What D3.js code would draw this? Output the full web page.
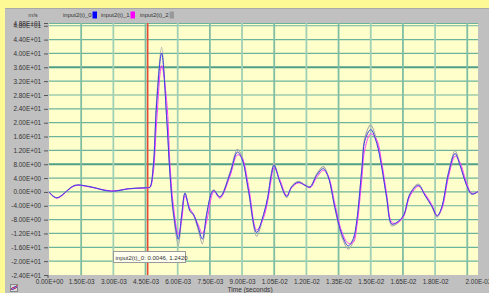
<!DOCTYPE html>
<html><head><meta charset="utf-8">
<script src="https://cdn.jsdelivr.net/npm/d3@7"></script>
<style>
html,body{margin:0;padding:0;background:#fdfa96;}
svg{display:block;font-family:"Liberation Sans",Arial,sans-serif;}
</style></head>
<body><svg id="c" width="489" height="293"></svg>
<script>
// time in milliseconds
const timeMs = [0,0.36,1.21,1.83,2.92,3.70,4.48,4.60,4.71,4.86,5.02,5.25,5.49,5.64,5.79,6.03,6.19,6.34,6.57,6.73,6.96,7.15,7.35,7.59,7.69,7.97,8.44,8.78,9.00,9.30,9.68,10.00,10.20,10.35,10.49,10.77,11.08,11.31,11.62,11.93,12.17,12.48,12.79,13.02,13.33,13.65,13.95,14.19,14.35,14.58,14.73,15.00,15.28,15.51,15.74,15.98,16.21,16.52,16.83,17.22,17.53,17.84,18.10,18.31,18.62,18.93,19.16,19.47,19.71,20.0];
const series0 = [0,-1.7,1.9,1.6,0.2,0.9,1.2,1.24,1.4,7.2,
 25.7,40.1,20.8,5.3,-5.4,-13.6,-6.3,-0.4,-5.4,-6.4,
 -10.3,-13.6,-6.3,-0.1,0.4,-1.5,5.3,11.5,9.5,0.4,
 -11.7,-6.5,-1.5,4.5,7.7,2.8,-1.3,1.4,2.8,1.9,
 1.4,4.8,6.7,4.3,-4.5,-12.2,-15.6,-13.4,-8.3,6.2,
 14.9,18.0,14.0,7.2,-1.5,-9.3,-8.8,-6.9,-0.6,1.9,
 -1.0,-4.0,-6.9,-4.4,5.3,11.1,7.7,1.9,-0.6,0.1];
const series1 = [0,-1.8,1.8,1.5,0.3,0.9,1.1,1.2,1.3,5.5,
 20.5,36.5,26.0,8.0,-3.5,-12.3,-8.0,-1.2,-4.8,-6.5,
 -9.5,-12.0,-8.5,-1.0,0.2,-1.8,4.6,10.7,9.8,1.8,
 -11.0,-7.5,-2.5,3.2,7.0,3.4,-1.0,1.2,2.6,2.0,
 1.2,4.2,6.2,4.6,-3.5,-11.5,-14.8,-14.5,-10.0,3.5,
 12.5,16.8,15.0,8.5,-0.5,-8.8,-9.0,-7.2,-1.2,1.6,
 -0.6,-3.6,-6.8,-5.0,4.2,10.3,8.5,2.6,-0.4,0.1];
const series2 = [0,-1.7,1.9,1.6,0.1,0.9,1.2,1.24,1.4,7.6,
 27.0,41.8,21.5,4.8,-6.2,-15.5,-6.8,-0.2,-5.6,-6.7,
 -11.0,-15.0,-6.8,0.1,0.6,-1.4,5.7,12.3,10.2,0.2,
 -12.8,-6.9,-1.6,4.9,8.2,2.9,-1.6,1.6,3.1,2.1,
 1.5,5.2,7.3,4.5,-4.9,-13.0,-16.5,-14.2,-8.5,6.6,
 15.8,19.3,14.8,7.4,-1.8,-9.8,-9.2,-7.2,-0.5,2.3,
 -1.0,-4.2,-7.3,-4.6,5.6,11.9,8.1,2.0,-0.7,0.1];
const seriesNames = ["input2(t)_0","input2(t)_1","input2(t)_2"];
const yTicks = [-24,-20,-16,-12,-8,-4,0,4,8,12,16,20,24,28,32,36,40,44,48,48.8];
const yMajor = [36,8];
const xGrid = [0.0015,0.003,0.0045,0.006,0.0075,0.009,0.0105,0.012,0.0135,0.015,0.0165,0.018,0.0195];
const xTickLabels = [0,0.0015,0.003,0.0045,0.006,0.0075,0.009,0.0105,0.012,0.0135,0.015,0.0165,0.018,0.02];
const cursor = {name:"input2(t)_0", t:0.0046, v:1.2420};

const svg = d3.select("#c");
const W=489,H=293;
const L=49,R=478,T=23,B=275;
const x = d3.scaleLinear().domain([0,0.02]).range([L,R]);
const y = d3.scaleLinear().domain([-24,48.8]).range([B,T]);
const fmt = v => { let s=(+v).toExponential(2).toUpperCase(); return s.replace(/E([+-])(\d)$/,"E$10$2"); };

svg.append("rect").attr("width",W).attr("height",H).attr("fill","#fdfa96");
svg.append("rect").attr("x",5).attr("y",8).attr("width",W).attr("height",H).attr("fill","#c0c0c0");
svg.append("line").attr("x1",5).attr("x2",W).attr("y1",8.5).attr("y2",8.5).attr("stroke","#a8a8a8");
svg.append("rect").attr("x",L).attr("y",T).attr("width",R-L).attr("height",B-T).attr("fill","#ffffcc");

// grid
const g = svg.append("g");
g.selectAll(".hg").data(yTicks.filter(v=>v>-24 && v<48.8)).enter().append("line")
 .attr("x1",L).attr("x2",R).attr("y1",d=>y(d)).attr("y2",d=>y(d))
 .attr("stroke",d=>yMajor.includes(d)?"#4f9f88":"#6cb39c")
 .attr("stroke-width",d=>yMajor.includes(d)?2:1.2);
g.append("line").attr("x1",L).attr("x2",R).attr("y1",T+0.5).attr("y2",T+0.5).attr("stroke","#6cb39c").attr("stroke-width",1.2);
g.selectAll(".vg").data(xGrid).enter().append("line")
 .attr("x1",d=>x(d)).attr("x2",d=>x(d)).attr("y1",T).attr("y2",B)
 .attr("stroke",(d,i)=>i%2?"#9fd0b6":"#7fbea4").attr("stroke-width",1.8);

// cursor
svg.append("line").attr("x1",x(cursor.t)).attr("x2",x(cursor.t)).attr("y1",T).attr("y2",B)
 .attr("stroke","#ee4a33").attr("stroke-width",1.6);

// series
const colors = ["#3a3ae8","#ff3cff","#a9a9a9"];
const data = [series0,series1,series2];
const line = d3.line().curve(d3.curveCatmullRom.alpha(0.5))
 .x((d,i)=>x(timeMs[i]/1000)).y(d=>y(d));
[2,1,0].forEach(k=>{
 svg.append("path").datum(data[k]).attr("d",line).attr("fill","none")
  .attr("stroke",colors[k]).attr("stroke-width",k==2?1.1:1);
});

// y axis
const ya = d3.axisLeft(y).tickValues(yTicks).tickSize(4).tickPadding(3).tickFormat(fmt);
const yg = svg.append("g").attr("transform",`translate(${L-1},0)`).call(ya);
yg.select(".domain").remove();
yg.selectAll("line").attr("stroke","#555");
yg.selectAll("text").attr("font-size","6.4px").attr("fill","#333").attr("font-family","Liberation Sans, Arial, sans-serif");
svg.append("line").attr("x1",L-1).attr("x2",L-1).attr("y1",B).attr("y2",B+3).attr("stroke","#555");

// x axis
const xa = d3.axisBottom(x).tickValues(xTickLabels).tickSize(0).tickPadding(4).tickFormat(fmt);
const xg = svg.append("g").attr("transform",`translate(0,${B})`).call(xa);
xg.select(".domain").remove();
xg.selectAll("text").attr("font-size","6.4px").attr("fill","#333").attr("font-family","Liberation Sans, Arial, sans-serif");

svg.append("text").attr("x",250).attr("y",292).attr("text-anchor","middle").attr("font-size","6.6px").attr("fill","#333").text("Time (seconds)");
svg.append("text").attr("x",33).attr("y",17).attr("text-anchor","middle").attr("font-size","6px").attr("fill","#444").text("m/s");

// legend
const legX = [63,101,140], sqX=[92.5,130.5,169.5];
seriesNames.forEach((n,i)=>{
 svg.append("text").attr("x",legX[i]).attr("y",17).attr("font-size","6px").attr("fill","#333").text(n);
 svg.append("rect").attr("x",sqX[i]).attr("y",11.5).attr("width",4.5).attr("height",7).attr("fill",["#0000ff","#ff00ff","#999999"][i]);
});

// tooltip
const tip = svg.append("g");
tip.append("rect").attr("x",113.5).attr("y",251.5).attr("width",72).attr("height",11).attr("fill","#fffff0").attr("stroke","#9a9a9a");
tip.append("text").attr("x",115.5).attr("y",259.5).attr("font-size","6px").attr("fill","#333")
 .text(`${cursor.name}: ${cursor.t.toFixed(4)}, ${cursor.v.toFixed(4)}`);

// small icon
const ic = svg.append("g");
ic.append("rect").attr("x",10.5).attr("y",284.5).attr("width",7).attr("height",7).attr("fill","#d8d8d8").attr("stroke","#888");
ic.append("path").attr("d","M11,290 L13,287 L15,289 L17,285").attr("stroke","#c03").attr("fill","none").attr("stroke-width",0.8);
ic.append("path").attr("d","M11,288 L13,290 L15,286 L17,288").attr("stroke","#33c").attr("fill","none").attr("stroke-width",0.8);
</script></body></html>
